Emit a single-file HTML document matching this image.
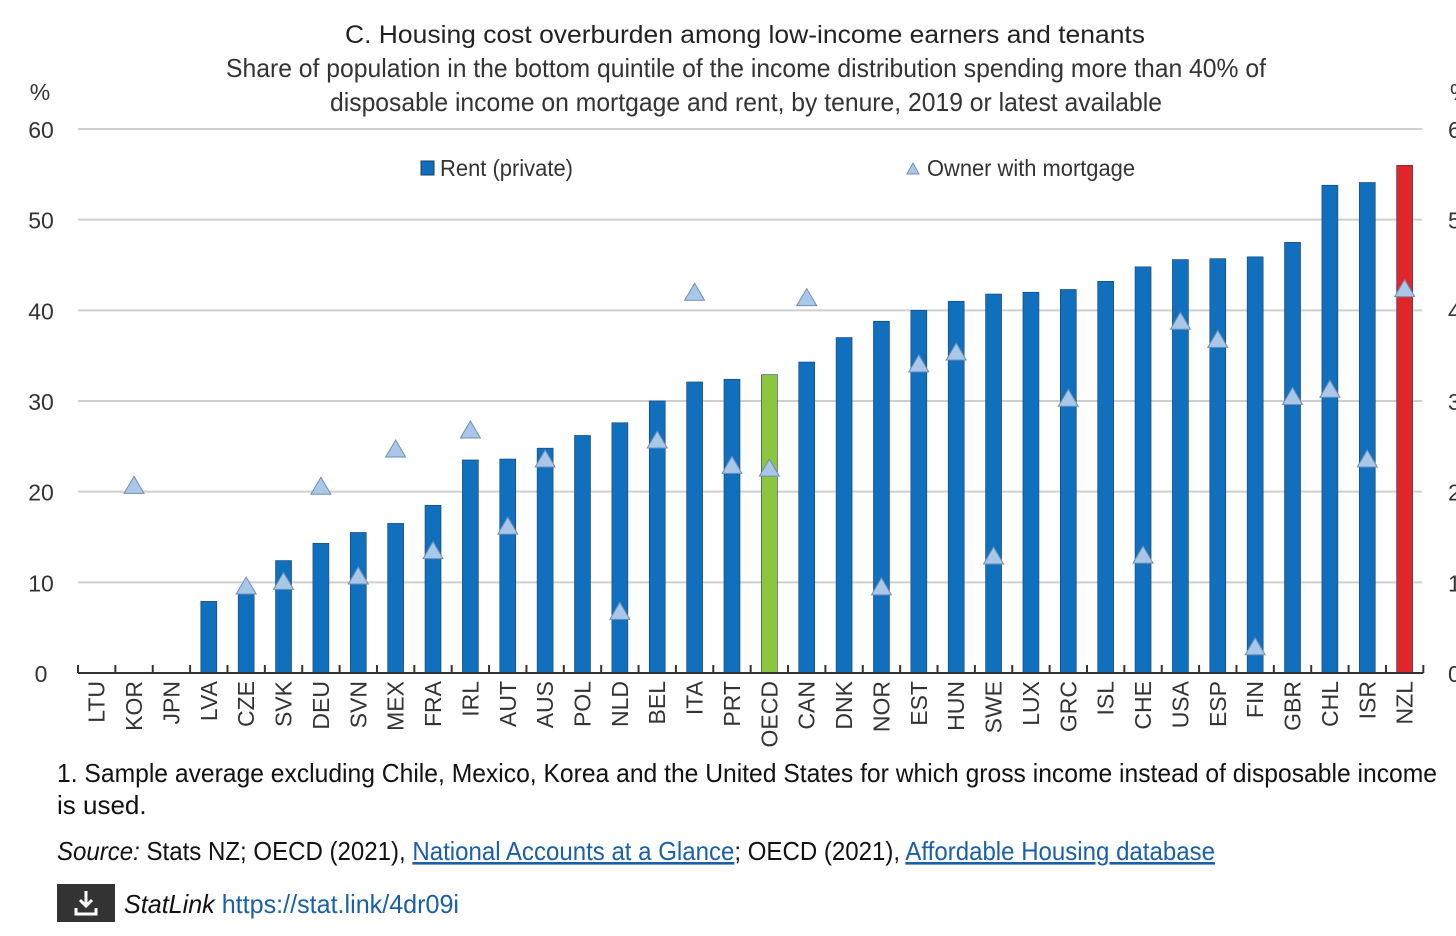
<!DOCTYPE html>
<html><head><meta charset="utf-8">
<style>
body{margin:0;background:#fff;width:1456px;height:931px;overflow:hidden;font-family:"Liberation Sans",sans-serif;}
svg text{font-family:"Liberation Sans Narrow","Liberation Sans",sans-serif;}
a{color:#1a5fa8;}
</style></head><body>
<svg id="chart" width="1456" height="931" viewBox="0 0 1456 931" xmlns="http://www.w3.org/2000/svg">
<text x="745" y="43" text-anchor="middle" font-size="25" fill="#222" textLength="800" lengthAdjust="spacingAndGlyphs">C. Housing cost overburden among low-income earners and tenants</text>
<text x="746" y="77" text-anchor="middle" font-size="26" fill="#333" textLength="1040" lengthAdjust="spacingAndGlyphs">Share of population in the bottom quintile of the income distribution spending more than 40% of</text>
<text x="746" y="111" text-anchor="middle" font-size="26" fill="#333" textLength="832" lengthAdjust="spacingAndGlyphs">disposable income on mortgage and rent, by tenure, 2019 or latest available</text>
<text x="40" y="100" text-anchor="middle" font-size="23" fill="#333">%</text>
<text x="1450" y="100" font-size="23" fill="#333">%</text>
<g id="grid"></g>
<g id="bars"></g>
<g id="tris"></g>
<g id="xaxis"></g>
<g>
<rect x="421" y="161" width="13" height="14" fill="#1070be" stroke="#1a3f66" stroke-width="1"/>
<text x="440" y="176" font-size="23" fill="#333" textLength="133" lengthAdjust="spacingAndGlyphs">Rent (private)</text>
<path d="M913 163 L919 174 L907 174 Z" fill="#a9c7e8" stroke="#6f8fb3" stroke-width="1"/>
<text x="927" y="176" font-size="23" fill="#333" textLength="208" lengthAdjust="spacingAndGlyphs">Owner with mortgage</text>
</g>
<text font-size="26" fill="#111"><tspan x="57" y="782" textLength="1380" lengthAdjust="spacingAndGlyphs">1. Sample average excluding Chile, Mexico, Korea and the United States for which gross income instead of disposable income</tspan><tspan x="57" y="814">is used.</tspan></text>
<text x="57" y="860" font-size="26" fill="#111" textLength="1158" lengthAdjust="spacingAndGlyphs"><tspan font-style="italic">Source:</tspan> Stats NZ; OECD (2021), <tspan fill="#1a5fa8" text-decoration="underline">National Accounts at a Glance</tspan>; OECD (2021), <tspan fill="#1a5fa8" text-decoration="underline">Affordable Housing database</tspan></text>
<g>
<rect x="57" y="884" width="58" height="38" fill="#333"/>
<path d="M86 891 v14 M80 900 l6 6 l6 -6 M76 908 v6 h20 v-6" stroke="#fff" stroke-width="3" fill="none"/>
</g>
<text x="124" y="913" font-size="26" fill="#111" textLength="335" lengthAdjust="spacingAndGlyphs"><tspan font-style="italic">StatLink</tspan> <tspan fill="#1a5fa8">https://stat.link/4dr09i</tspan></text>
</svg>
<script>
const categories=["LTU","KOR","JPN","LVA","CZE","SVK","DEU","SVN","MEX","FRA","IRL","AUT","AUS","POL","NLD","BEL","ITA","PRT","OECD","CAN","DNK","NOR","EST","HUN","SWE","LUX","GRC","ISL","CHE","USA","ESP","FIN","GBR","CHL","ISR","NZL"];
const rentValues=[0,0,0,7.9,8.8,12.4,14.3,15.5,16.5,18.5,23.5,23.6,24.8,26.2,27.6,30,32.1,32.4,32.9,34.3,37,38.8,40,41,41.8,42,42.3,43.2,44.8,45.6,45.7,45.9,47.5,53.8,54.1,56];
const ownerValues=[null,20.7,null,null,9.6,10.1,20.6,10.7,24.7,13.5,26.8,16.2,23.6,null,6.8,25.7,42,22.9,22.6,41.4,null,9.5,34.1,35.4,12.9,null,30.3,null,13,38.8,36.8,2.9,30.5,31.3,23.6,42.4];
const yTicks=[0,10,20,30,40,50,60];
const NS="http://www.w3.org/2000/svg";
const x0=78,step=37.37,yBase=673,yTop=129;
const yScale=v=>yBase-(v/60)*(yBase-yTop);
const xScale=i=>x0+step*(i+0.5);
function mk(tag,attrs,parent){const e=document.createElementNS(NS,tag);for(const k in attrs)e.setAttribute(k,attrs[k]);parent.appendChild(e);return e;}
const grid=document.getElementById('grid');
yTicks.forEach(t=>{
  const y=yScale(t);
  if(t>0){const l=mk('line',{x1:78,x2:1422,y1:y,y2:y,stroke:'#cfcfcf','stroke-width':2},grid);
  
  }
  const a=mk('text',{x:41,y:y+9,'text-anchor':'middle','font-size':23,fill:'#333'},grid);a.textContent=t;
  
  
  const b=mk('text',{x:1448,y:y+9,'font-size':23,fill:'#333'},grid);b.textContent=t;
  
  
});
const bars=document.getElementById('bars');
categories.forEach((c,i)=>{
  const v=rentValues[i];if(!v)return;
  const fill=c==='OECD'?'#8cc63f':c==='NZL'?'#e0262b':'#1070be';
  const r=mk('rect',{x:xScale(i)-8,y:yScale(v),width:16,height:yBase-yScale(v),fill:fill,stroke:'#1a3f66','stroke-width':0.6},bars);
  
  
});
const tris=document.getElementById('tris');
categories.forEach((c,i)=>{
  const v=ownerValues[i];if(v===null)return;
  const x=xScale(i),y=yScale(v);
  const p=mk('path',{d:`M${x} ${y-9} L${x+10} ${y+8} L${x-10} ${y+8} Z`,fill:'#a9c7e8',stroke:'#6f8fb3','stroke-width':1},tris);
  
  
});
const xa=document.getElementById('xaxis');
const ax=mk('line',{x1:x0,x2:x0+step*36,y1:yBase,y2:yBase,stroke:'#333','stroke-width':2},xa);


for(let i=0;i<=36;i++){const t=mk('line',{x1:x0+step*i,x2:x0+step*i,y1:yBase-8,y2:yBase,stroke:'#333','stroke-width':2},xa);
  
  }
categories.forEach((c,i)=>{
  const x=xScale(i)+8;
  const t=mk('text',{x:x,y:681,'text-anchor':'end','font-size':23,fill:'#333',transform:`rotate(-90 ${x} 681)`},xa);
  t.textContent=c;
  
  
});
</script>
</body></html>
